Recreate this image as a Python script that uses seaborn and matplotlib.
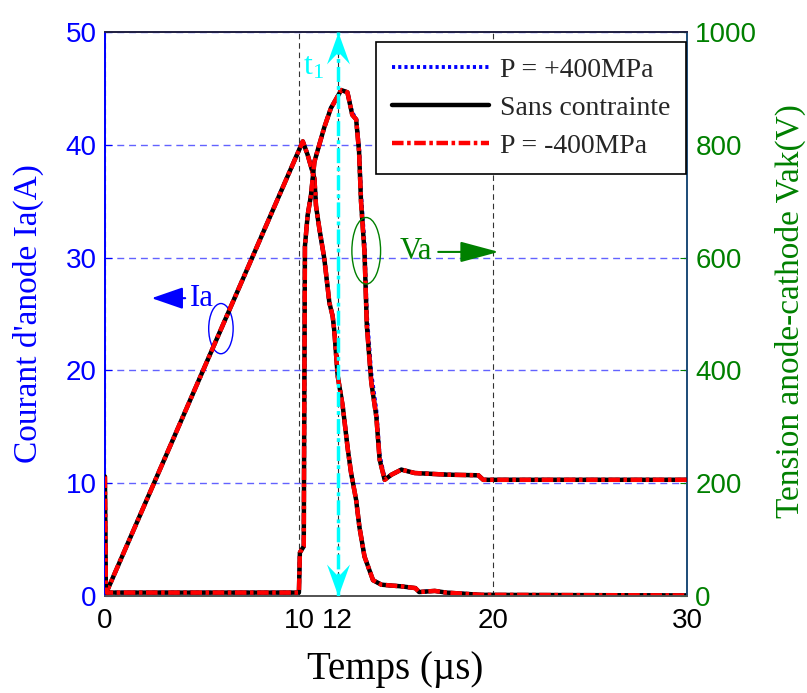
import numpy as np
import pandas as pd
import matplotlib
matplotlib.use("Agg")
import matplotlib.pyplot as plt
from matplotlib.path import Path
from matplotlib.patches import Ellipse
import seaborn as sns

# ── data ────────────────────────────────────────────────────
# anode current Ia (A), same trace for the three stress cases
t_ia = [0.0, 0.05, 0.15, 10.2, 10.45, 10.8, 10.88, 11.05, 11.31, 11.57,
        11.74, 11.83, 11.92, 12.0, 12.26, 12.52, 12.69, 12.95, 13.12,
        13.38, 13.82, 14.25, 15.3, 16.0, 16.2, 17.0, 17.6, 19.4, 30.0]
ia = [0.0, 0.1, 0.6, 40.3, 39.1, 37.0, 34.6, 32.6, 29.9, 26.0,
      24.8, 23.4, 21.3, 19.5, 16.8, 13.0, 10.9, 8.5, 6.1,
      3.5, 1.4, 1.0, 0.85, 0.7, 0.35, 0.45, 0.3, 0.1, 0.05]

# anode-cathode voltage Vak (V)
t_vak = [0.0, 0.05, 0.1, 10.0, 10.05, 10.25, 10.27, 10.31, 10.45, 10.62,
         10.8, 11.05, 11.3, 11.65, 11.9, 12.18, 12.5, 12.75, 12.95, 13.1,
         13.2, 13.38, 13.5, 13.73, 13.99, 14.16, 14.42, 14.77, 15.28,
         15.97, 17.7, 19.25, 19.5, 30.0]
vak = [212, 10, 6, 6, 77, 88, 280, 620, 675, 710,
       770, 800, 830, 865, 880, 897, 893, 853, 845, 788,
       700, 610, 480, 379, 318, 242, 206, 215, 224,
       218, 215, 214, 206, 206]
vak_p400 = [212, 10, 6, 6, 77, 88, 280, 620, 675, 710,
            770, 800, 830, 865, 880, 897, 893, 856, 848, 795,
            715, 625, 500, 395, 330, 250, 208, 215, 224,
            218, 215, 214, 206, 206]

series = ["P = +400MPa", "Sans contrainte", "P = -400MPa"]
x_ticks = [0, 10, 12, 20, 30]
ia_ticks = [0, 10, 20, 30, 40, 50]
vak_ticks = [0, 200, 400, 600, 800, 1000]

# ── style ────────────────────────────────────────────────────
sns.set_style("white")
plt.rcParams['font.family'] = ['Liberation Sans', 'DejaVu Sans']
plt.rcParams['mathtext.fontset'] = 'custom'
plt.rcParams['mathtext.rm'] = 'Liberation Serif'
SERIF = ['Liberation Serif', 'DejaVu Serif']
BLUE = '#0000ff'
GREEN = '#008000'

fig = plt.figure(figsize=(8.07, 6.93), dpi=100)
ax = fig.add_axes([0.130, 0.140, 0.7212, 0.8139])
ax2 = ax.twinx()

styles = {
    "P = +400MPa": dict(color=BLUE, linestyle=(0, (0.8, 0.8)), lw=2.8, zorder=3),
    "Sans contrainte": dict(color='black', linestyle='-', lw=3.2, zorder=4),
    "P = -400MPa": dict(color='#ff0000', linestyle=(0, (2.6, 0.8, 0.8, 0.8)), lw=3.2, zorder=5),
}

for name in series:
    st = styles[name]
    sns.lineplot(x=t_ia, y=ia, ax=ax, sort=False, estimator=None, legend=False,
                 label=name, **st)
    v = vak_p400 if name == "P = +400MPa" else vak
    sns.lineplot(x=t_vak, y=v, ax=ax2, sort=False, estimator=None, legend=False,
                 **st)

# limits / ticks
ax.set_xlim(0, 30)
ax.set_ylim(0, 50)
ax2.set_ylim(0, 1000)
ax.set_xticks(x_ticks)
ax.set_yticks(ia_ticks)
ax2.set_yticks(vak_ticks)

ax.tick_params(axis='y', colors=BLUE, labelsize=20, direction='in', length=5, pad=6)
ax.tick_params(axis='x', colors='black', labelsize=20, direction='in', length=5, pad=9)
ax2.tick_params(axis='y', colors=GREEN, labelsize=20, direction='in', length=5, pad=6)

# grids
ax.grid(axis='y', color='#6262ff', linestyle=(0, (5, 3.5)), lw=1.0)
ax.grid(axis='x', color='#333333', linestyle=(0, (5, 3.5)), lw=0.8)

# spines
for a in (ax, ax2):
    a.spines['left'].set_color(BLUE)
    a.spines['right'].set_color('#1f4e79')
    a.spines['bottom'].set_color('#555555')
    a.spines['top'].set_color('#222244')
    for s in a.spines.values():
        s.set_linewidth(1.3)

# labels
ax.set_xlabel('Temps (µs)', fontsize=28, family=SERIF, color='black')
ax.xaxis.set_label_coords(0.498, -0.13)
ax.xaxis.label.set_verticalalignment('center')
ax.set_ylabel("Courant d'anode Ia(A)", fontsize=24, family=SERIF, color=BLUE)
ax.yaxis.set_label_coords(-0.132, 0.5)
ax.yaxis.label.set_verticalalignment('center')
ax2.set_ylabel('Tension anode-cathode Vak(V)', fontsize=24, family=SERIF, color=GREEN)
ax2.yaxis.set_label_coords(1.177, 0.505)
ax2.yaxis.label.set_verticalalignment('center')

# t1 double arrow at 12 µs
ax2.plot([12, 12], [0, 1000], color='cyan', lw=2.5,
         linestyle=(0, (4.3, 1.2, 1.1, 1.2)), zorder=7)
up_head = Path([(0, 0), (-0.36, -1), (0, -0.62), (0.36, -1), (0, 0)],
               [Path.MOVETO, Path.LINETO, Path.LINETO, Path.LINETO, Path.CLOSEPOLY])
down_head = Path([(0, 0), (-0.36, 1), (0, 0.62), (0.36, 1), (0, 0)],
                 [Path.MOVETO, Path.LINETO, Path.LINETO, Path.LINETO, Path.CLOSEPOLY])
ax2.plot([12], [1000], marker=up_head, markersize=46, color='cyan',
         markeredgewidth=0, linestyle='none', clip_on=False, zorder=8)
ax2.plot([12], [0], marker=down_head, markersize=46, color='cyan',
         markeredgewidth=0, linestyle='none', clip_on=False, zorder=8)
ax2.text(10.77, 938, r'$\mathrm{t_1}$', color='cyan', fontsize=23,
         ha='center', va='center', zorder=8)

# Ia / Va markers
ax.annotate('Ia', xy=(2.41, 26.4), xytext=(4.38, 26.4), color=BLUE,
            fontsize=22, family=SERIF, ha='left', va='center',
            arrowprops=dict(arrowstyle='-|>,head_length=1.3,head_width=0.45',
                            color=BLUE, lw=1.5, mutation_scale=15,
                            shrinkA=1, shrinkB=0))
ax.add_patch(Ellipse((5.98, 23.7), 1.26, 4.45, fill=False, ec=BLUE, lw=1.0))
ax2.annotate('Va', xy=(20.3, 610), xytext=(15.2, 610), color=GREEN,
             fontsize=22, family=SERIF, ha='left', va='center', zorder=8,
             arrowprops=dict(arrowstyle='-|>,head_length=1.6,head_width=0.43',
                             color=GREEN, lw=1.5, mutation_scale=15,
                             shrinkA=2, shrinkB=0))
ax2.add_patch(Ellipse((13.47, 612), 1.48, 118, fill=False, ec=GREEN, lw=1.0, zorder=8))

# legend
handles, labels = ax.get_legend_handles_labels()
leg = ax2.legend(handles, labels, loc='upper right', bbox_to_anchor=(0.998, 0.982),
                 borderaxespad=0, fancybox=False, framealpha=1, edgecolor='black',
                 handlelength=3.5, handletextpad=0.4, labelspacing=0.45,
                 borderpad=0.55, prop={'family': SERIF, 'size': 20})
leg.get_frame().set_linewidth(1.2)
leg.set_zorder(10)

fig.savefig('out.png', dpi=100)
